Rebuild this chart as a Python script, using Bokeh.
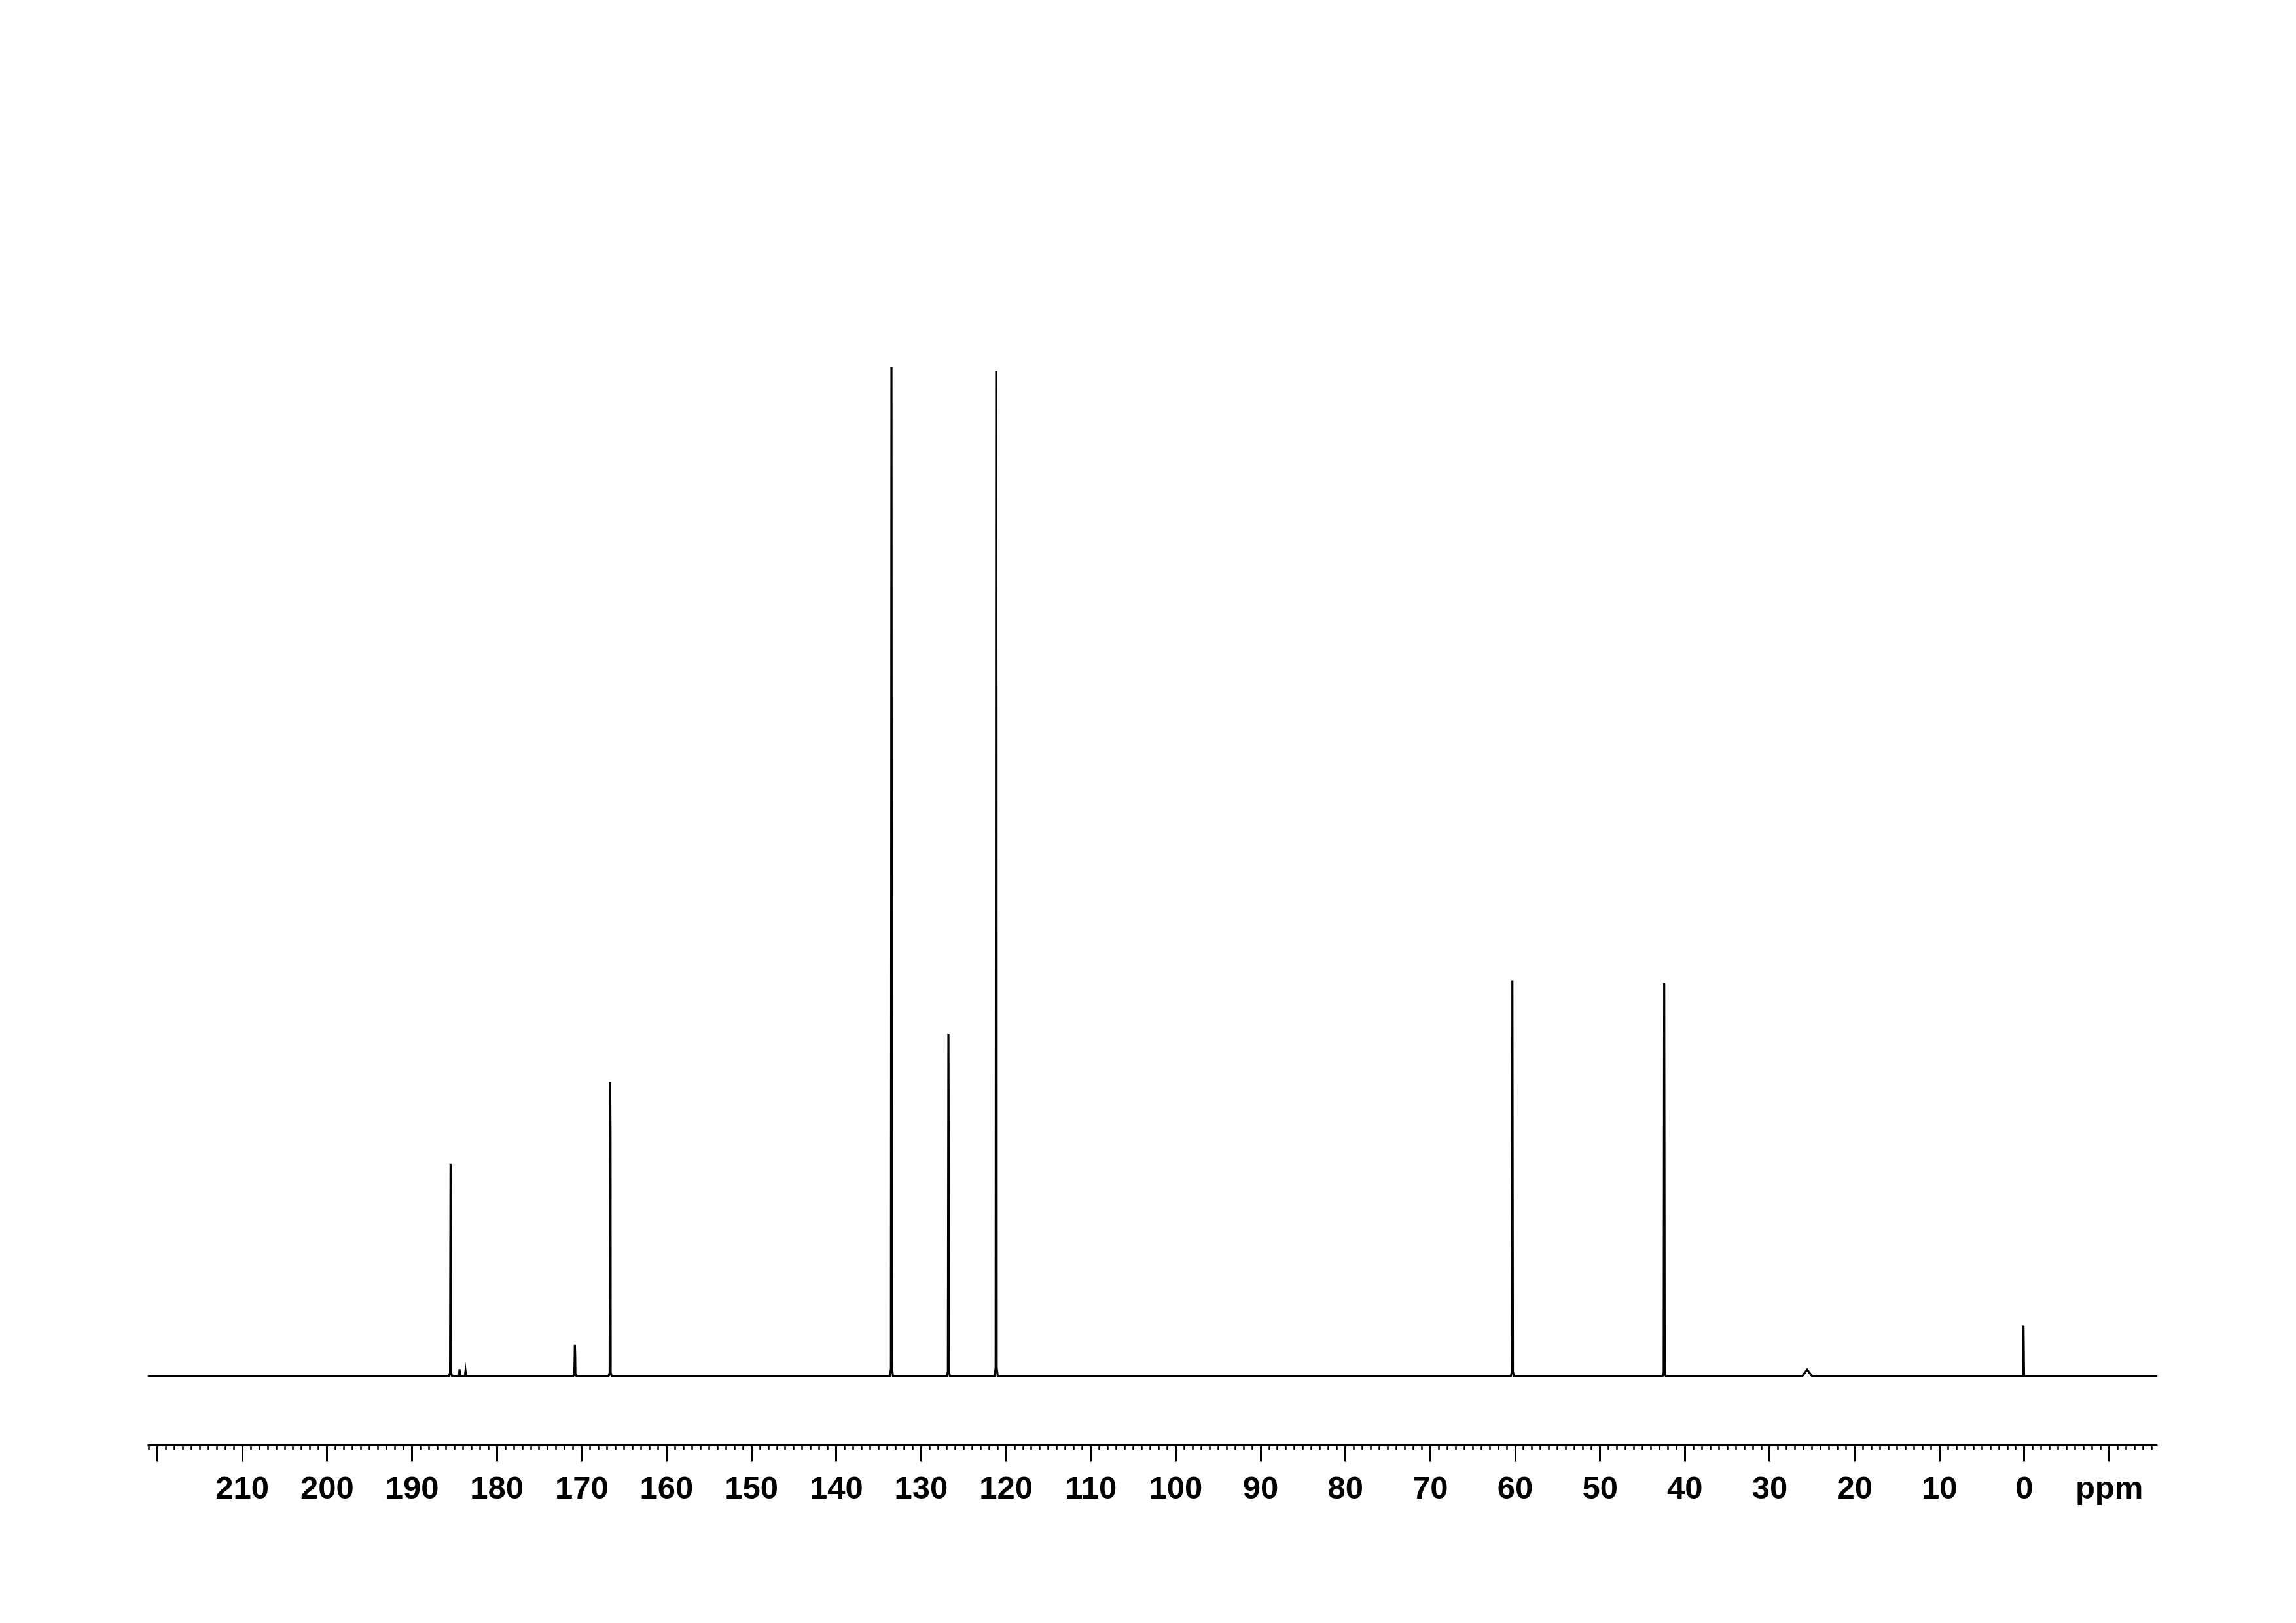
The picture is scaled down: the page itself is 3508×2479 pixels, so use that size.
from bokeh.plotting import figure
from bokeh.models import Range1d, SingleIntervalTicker, LinearAxis
from bokeh.embed import file_html
from bokeh.resources import INLINE

# ---- data (13C NMR spectrum) ----
peak_ppm      = [185.46, 184.40, 183.70, 170.81, 166.65, 133.50, 126.79, 121.16, 60.33, 42.44, 25.60, 0.10]
peak_height   = [21.0,   0.65,   0.45,   3.1,    29.1,   100.0,  33.9,   99.6,   39.2,  38.9,  0.6,   5.0]
peak_shoulder = [13.0,   0.0,    0.0,    1.9,    23.8,   0.0,    20.6,   63.9,   13.4,  0.0,   0.0,   0.0]
peak_foot     = [0.3,    0.0,    0.0,    0.2,    0.3,    0.7,    0.4,    0.8,    0.4,   0.3,   0.0,   0.0]
peak_halfwidth = [0.06,  0.06,   0.06,   0.06,   0.06,   0.06,   0.06,   0.06,   0.06,  0.06,  0.55,  0.06]

x_start, x_end = 221.16, -15.7
tick_labels_override = {220: "", -10: "ppm"}

# build the trace from the peak table
xs = [x_start]
ys = [0.0]
for ppm, h, s, f, hw in sorted(zip(peak_ppm, peak_height, peak_shoulder, peak_foot, peak_halfwidth), reverse=True):
    xs += [ppm + hw * 3, ppm + hw]
    ys += [0.0, f]
    xs += [ppm]
    ys += [h]
    if s > 0:
        xs += [ppm - 0.04]
        ys += [s]
    xs += [ppm - hw, ppm - hw * 3]
    ys += [f, 0.0]
xs.append(x_end)
ys.append(0.0)

p = figure(
    output_backend="svg", toolbar_location=None,
    frame_width=3071, frame_height=2107,
    min_border_left=225, min_border_right=200,
    min_border_top=100, min_border_bottom=260,
    x_range=Range1d(x_start, x_end), y_range=Range1d(-6.88, 129.85),
    x_axis_location=None, y_axis_location=None,
    background_fill_color="white", border_fill_color="white",
)
p.outline_line_color = None
p.grid.visible = False

p.line(xs, ys, line_color="black", line_width=3.2, line_join="miter")

ax = LinearAxis(ticker=SingleIntervalTicker(interval=10, num_minor_ticks=10))
ax.axis_line_width = 3
ax.axis_line_color = "black"
ax.major_tick_out = 25
ax.major_tick_in = 0
ax.major_tick_line_width = 3
ax.minor_tick_out = 7
ax.minor_tick_in = 0
ax.minor_tick_line_width = 2.5
ax.major_label_text_font = "Liberation Sans"
ax.major_label_text_font_style = "bold"
ax.major_label_text_font_size = "49px"
ax.major_label_text_color = "black"
ax.major_label_standoff = 12
ax.major_label_overrides = tick_labels_override
p.add_layout(ax, "below")

open("out.html", "w").write(file_html(p, INLINE))
